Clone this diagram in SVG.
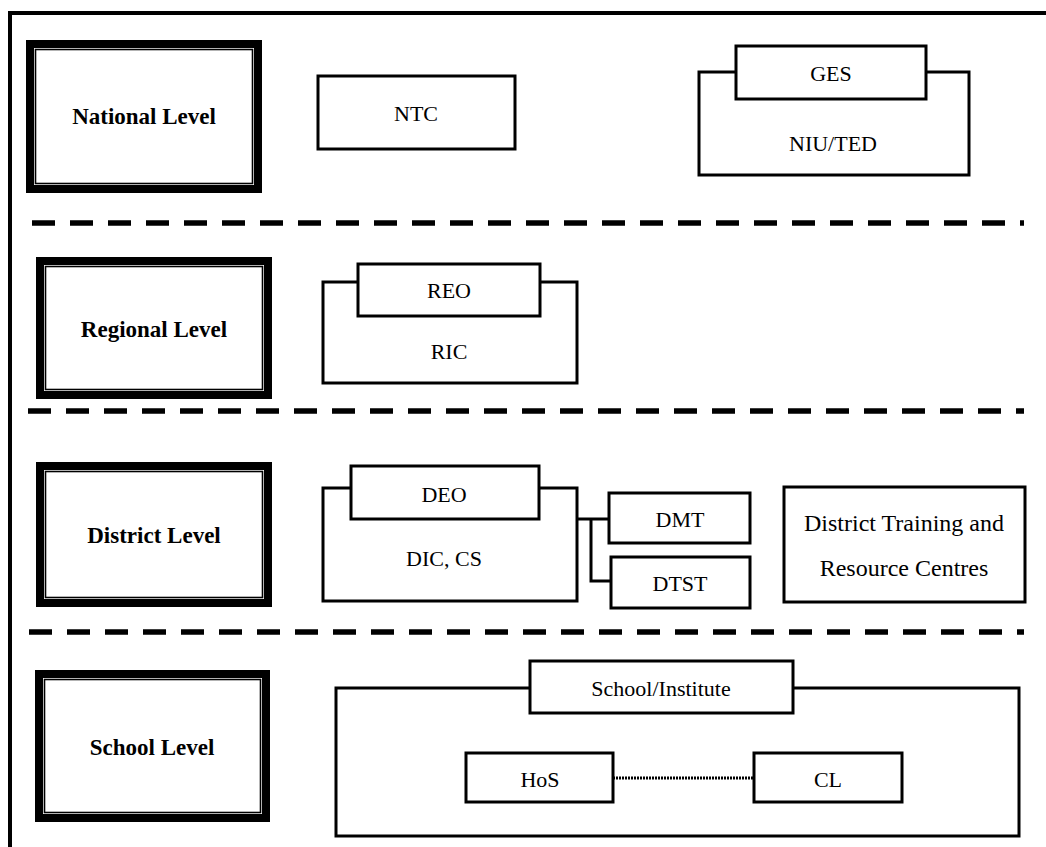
<svg xmlns="http://www.w3.org/2000/svg" width="1046" height="847" viewBox="0 0 1046 847">
  <style>
    .bg { fill: #ffffff; }
    .frame { fill: none; stroke: #000; stroke-width: 4; }
    .lvl-outer { fill: #fff; stroke: #000; stroke-width: 8; }
    .lvl-inner { fill: none; stroke: #000; stroke-width: 1.6; }
    .box { fill: #fff; stroke: #000; stroke-width: 3; }
    .sep { fill: none; stroke: #000; stroke-width: 5.5; stroke-dasharray: 23 15; }
    .link { fill: none; stroke: #000; stroke-width: 3; }
    .dots { fill: none; stroke: #000; stroke-width: 3; stroke-dasharray: 2 1; }
    .lvl-text { font-family: "Liberation Serif", "DejaVu Serif", serif; font-weight: bold; font-size: 23px; text-anchor: middle; dominant-baseline: central; }
    .txt { font-family: "Liberation Serif", "DejaVu Serif", serif; font-size: 22px; text-anchor: middle; dominant-baseline: central; }
    .txt-lg { font-family: "Liberation Serif", "DejaVu Serif", serif; font-size: 24px; text-anchor: middle; dominant-baseline: central; }
  </style>

  <rect class="bg" x="0" y="0" width="1046" height="847"/>

  <!-- outer frame: only top and left edges fall inside the page -->
  <path class="frame" d="M10,847 V13 H1046"/>

  <!-- level separators -->
  <g id="separators">
    <line class="sep" x1="32" y1="223" x2="1024" y2="223"/>
    <line class="sep" x1="28" y1="411" x2="1024" y2="411"/>
    <line class="sep" x1="29" y1="632" x2="1024" y2="632"/>
  </g>

  <!-- level headings -->
  <g id="national-level">
    <rect class="lvl-outer" x="30" y="44" width="228" height="145"/>
    <rect class="lvl-inner" x="35.5" y="49.5" width="217" height="134"/>
    <text class="lvl-text" x="144" y="116">National Level</text>
  </g>
  <g id="regional-level">
    <rect class="lvl-outer" x="40" y="261" width="228" height="134"/>
    <rect class="lvl-inner" x="45.5" y="266.5" width="217" height="123"/>
    <text class="lvl-text" x="154" y="329">Regional Level</text>
  </g>
  <g id="district-level">
    <rect class="lvl-outer" x="40" y="466" width="228" height="137"/>
    <rect class="lvl-inner" x="45.5" y="471.5" width="217" height="126"/>
    <text class="lvl-text" x="154" y="535">District Level</text>
  </g>
  <g id="school-level">
    <rect class="lvl-outer" x="39" y="674" width="227" height="144"/>
    <rect class="lvl-inner" x="44.5" y="679.5" width="216" height="133"/>
    <text class="lvl-text" x="152" y="747">School Level</text>
  </g>

  <!-- national level bodies -->
  <g id="ntc">
    <rect class="box" x="318" y="76" width="197" height="73"/>
    <text class="txt" x="416" y="113">NTC</text>
  </g>
  <g id="niu-ted">
    <rect class="box" x="699" y="72" width="270" height="103"/>
    <text class="txt" x="833" y="143">NIU/TED</text>
  </g>
  <g id="ges">
    <rect class="box" x="736" y="46" width="190" height="53"/>
    <text class="txt" x="831" y="73">GES</text>
  </g>

  <!-- regional level bodies -->
  <g id="ric">
    <rect class="box" x="323" y="282" width="254" height="101"/>
    <text class="txt" x="449" y="351">RIC</text>
  </g>
  <g id="reo">
    <rect class="box" x="358" y="264" width="182" height="52"/>
    <text class="txt" x="449" y="290">REO</text>
  </g>

  <!-- district level bodies -->
  <g id="dic-cs">
    <rect class="box" x="323" y="488" width="254" height="113"/>
    <text class="txt" x="444" y="558">DIC, CS</text>
  </g>
  <g id="deo">
    <rect class="box" x="351" y="466" width="188" height="53"/>
    <text class="txt" x="444" y="494">DEO</text>
  </g>
  <g id="dmt">
    <rect class="box" x="609" y="493" width="141" height="50"/>
    <text class="txt" x="680" y="519">DMT</text>
  </g>
  <g id="dtst">
    <rect class="box" x="611" y="557" width="139" height="51"/>
    <text class="txt" x="680" y="583">DTST</text>
  </g>
  <g id="district-centres">
    <rect class="box" x="784" y="487" width="241" height="115"/>
    <text class="txt-lg" x="904" y="523">District Training and</text>
    <text class="txt-lg" x="904" y="568">Resource Centres</text>
  </g>

  <!-- school level bodies -->
  <g id="school-body">
    <rect class="box" x="336" y="688" width="683" height="148"/>
  </g>
  <g id="school-institute">
    <rect class="box" x="530" y="661" width="263" height="52"/>
    <text class="txt" x="661" y="688">School/Institute</text>
  </g>
  <g id="hos">
    <rect class="box" x="466" y="753" width="147" height="49"/>
    <text class="txt" x="540" y="779">HoS</text>
  </g>
  <g id="cl">
    <rect class="box" x="754" y="753" width="148" height="49"/>
    <text class="txt" x="828" y="779">CL</text>
  </g>

  <!-- connectors -->
  <g id="connectors">
    <path class="link" d="M577,519 H609"/>
    <path class="link" d="M591,519 V581 H611"/>
    <line class="dots" x1="613" y1="778" x2="754" y2="778"/>
  </g>
</svg>
